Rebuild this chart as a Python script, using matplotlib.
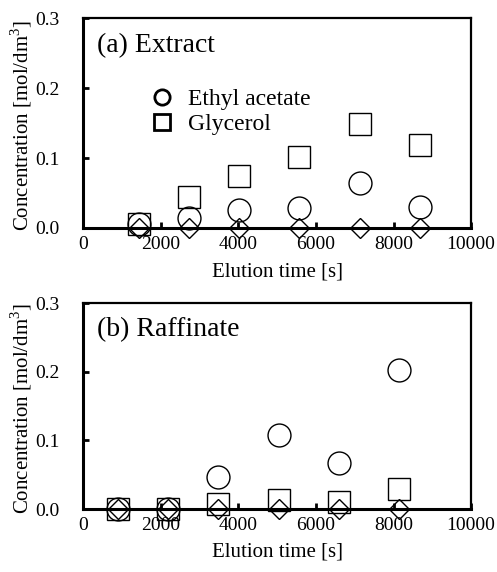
import matplotlib
matplotlib.use("Agg")
import matplotlib.pyplot as plt
from matplotlib.lines import Line2D

plt.rcParams['font.family'] = ['Liberation Serif', 'DejaVu Serif']
plt.rcParams['mathtext.fontset'] = 'custom'
plt.rcParams['mathtext.rm'] = 'Liberation Serif'

# (a) Extract
ext_time = [1430, 2730, 4020, 5570, 7140, 8690]
ext_ethyl = [0.005, 0.015, 0.026, 0.028, 0.064, 0.030]
ext_glycerol = [0.005, 0.044, 0.075, 0.102, 0.149, 0.119]
ext_water = [0.0, 0.0, 0.0, 0.0, 0.0, 0.0]

# (b) Raffinate
raf_time = [900, 2190, 3480, 5050, 6600, 8140]
raf_ethyl = [0.0, 0.0, 0.047, 0.108, 0.067, 0.202]
raf_glycerol = [0.0, 0.0, 0.008, 0.013, 0.010, 0.029]
raf_water = [0.0, 0.0, 0.0, 0.0, 0.0, 0.0]

xticks = [0, 2000, 4000, 6000, 8000, 10000]
yticks = [0.0, 0.1, 0.2, 0.3]
ytick_labels = ['0.0', '0.1', '0.2', '0.3']

fig = plt.figure(figsize=(4.97, 5.72), dpi=100)
ax1 = fig.add_axes([0.167, 0.6014, 0.781, 0.3671])
ax2 = fig.add_axes([0.167, 0.110, 0.781, 0.360])

def style(ax, title, t, e, g, w):
    ax.plot(t, w, linestyle='none', marker='D', ms=10.5, mfc='none', mec='black', mew=1.0, clip_on=False, zorder=3)
    ax.plot(t, e, linestyle='none', marker='o', ms=16.5, mfc='none', mec='black', mew=1.0, clip_on=False, zorder=4)
    ax.plot(t, g, linestyle='none', marker='s', ms=16.5, mfc='none', mec='black', mew=1.0, clip_on=False, zorder=4)
    ax.set_xlim(0, 10000)
    ax.set_ylim(0, 0.3)
    ax.set_xticks(xticks)
    ax.set_xticklabels([str(v) for v in xticks])
    ax.set_yticks(yticks)
    ax.set_yticklabels(ytick_labels)
    ax.tick_params(axis='both', direction='in', length=4, width=2, labelsize=14)
    ax.tick_params(axis='x', pad=6)
    ax.tick_params(axis='y', pad=17)
    for s in ['left', 'bottom']:
        ax.spines[s].set_linewidth(2.2)
    for s in ['top', 'right']:
        ax.spines[s].set_linewidth(1.6)
    ax.set_xlabel('Elution time [s]', fontsize=15)
    ax.set_ylabel('Concentration [mol/dm$^3$]', fontsize=15)
    ax.xaxis.set_label_coords(0.5, -0.21)
    ax.yaxis.set_label_coords(-0.16, 0.49)
    ax.xaxis.label.set_va('center')
    ax.yaxis.label.set_va('center')
    ax.text(0.036, 0.87, title, transform=ax.transAxes, fontsize=20, va='center', ha='left')

style(ax1, '(a) Extract', ext_time, ext_ethyl, ext_glycerol, ext_water)
style(ax2, '(b) Raffinate', raf_time, raf_ethyl, raf_glycerol, raf_water)

handles = [
    Line2D([], [], linestyle='none', marker='o', ms=11, mfc='none', mec='black', mew=2),
    Line2D([], [], linestyle='none', marker='s', ms=11, mfc='none', mec='black', mew=2),
]
ax1.legend(handles, ['Ethyl acetate', 'Glycerol'], loc='upper left', bbox_to_anchor=(0.142, 0.72),
           frameon=False, fontsize=17, handlelength=1.0, handletextpad=0.6, labelspacing=0.15, borderpad=0)

fig.savefig('out.png', dpi=100)
